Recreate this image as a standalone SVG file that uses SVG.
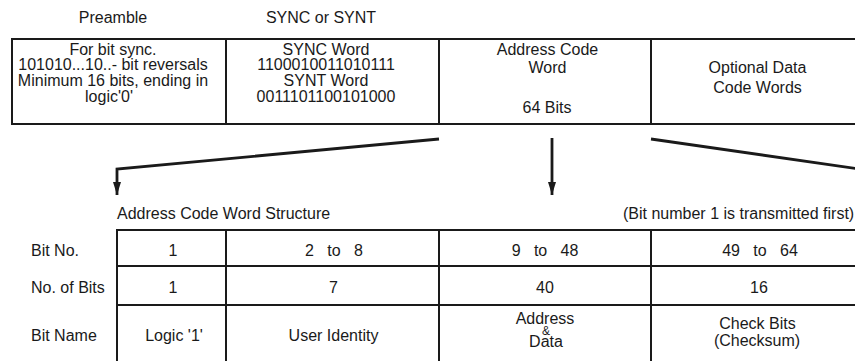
<svg xmlns="http://www.w3.org/2000/svg" width="855" height="361" viewBox="0 0 855 361">
<style>
text{font-family:"Liberation Sans",Arial,sans-serif;font-size:16px;fill:#1a1a1a}
.c{text-anchor:middle}
.sm{font-size:12px}
.grid{stroke:#1a1a1a;stroke-width:2;fill:none}
.conn{stroke:#1a1a1a;stroke-width:2.8;fill:none}
</style>
<defs>
<marker id="ah" viewBox="0 0 13 8" refX="13" refY="4" markerWidth="13" markerHeight="8" markerUnits="userSpaceOnUse" orient="auto">
<path d="M0,0 L13,4 L0,8 Z" fill="#1a1a1a"/>
</marker>
</defs>
<rect width="855" height="361" fill="#fff"/>

<g id="headings">
<text class="c" x="113" y="23">Preamble</text>
<text class="c" x="321" y="23">SYNC or SYNT</text>
</g>

<g id="frame-table">
<path class="grid" d="M870,39 H12 V124 H870 M226,39 V124 M439,39 V124 M651,39 V124"/>
</g>
<g id="preamble">
<text class="c" x="113" y="54.5">For bit sync.</text>
<text class="c" x="113" y="70.3">101010...10..- bit reversals</text>
<text class="c" x="113" y="86.1">Minimum 16 bits, ending in</text>
<text class="c" x="109" y="101.9">logic'0'</text>
</g>
<g id="sync">
<text class="c" x="326" y="54.5">SYNC Word</text>
<text class="c" x="326" y="70.3">1100010011010111</text>
<text class="c" x="326" y="86.1">SYNT Word</text>
<text class="c" x="326" y="101.9">0011101100101000</text>
</g>
<g id="address-code-word">
<text class="c" x="547.5" y="54.5">Address Code</text>
<text class="c" x="547.5" y="72.5">Word</text>
<text class="c" x="547" y="113">64 Bits</text>
</g>
<g id="optional-data">
<text class="c" x="757.5" y="73">Optional Data</text>
<text class="c" x="757.5" y="92.5">Code Words</text>
</g>

<g id="connectors">
<polyline class="conn" points="439,139 117,169 117,195" marker-end="url(#ah)"/>
<line class="conn" x1="552" y1="138" x2="552" y2="195" marker-end="url(#ah)"/>
<line class="conn" x1="651" y1="139" x2="870" y2="170.5"/>
</g>

<g id="structure-titles">
<text x="117" y="219">Address Code Word Structure</text>
<text x="623" y="218.5">(Bit number 1 is transmitted first)</text>
</g>

<g id="row-labels">
<text x="31" y="255.5">Bit No.</text>
<text x="31" y="293">No. of Bits</text>
<text x="31" y="341">Bit Name</text>
</g>

<g id="structure-table">
<path class="grid" d="M870,230 H117 V370 M117,266 H870 M117,305 H870 M226,230 V370 M439,230 V370 M651,230 V370"/>
</g>
<g id="bit1">
<text class="c" x="173" y="255.5">1</text>
<text class="c" x="173" y="293">1</text>
<text class="c" x="174" y="341">Logic '1'</text>
</g>
<g id="user-identity">
<text class="c" x="334" y="255.5" xml:space="preserve">2   to   8</text>
<text class="c" x="333.5" y="293">7</text>
<text class="c" x="333.5" y="341">User Identity</text>
</g>
<g id="address-data">
<text class="c" x="545" y="255.5" xml:space="preserve">9   to   48</text>
<text class="c" x="545" y="293">40</text>
<text class="c"><tspan x="545" y="323.5">Address</tspan><tspan class="sm" x="546" y="335">&amp;</tspan><tspan x="546" y="347">Data</tspan></text>
</g>
<g id="check-bits">
<text class="c" x="760" y="255.5" xml:space="preserve">49   to   64</text>
<text class="c" x="759" y="293">16</text>
<text class="c" x="757.5" y="329">Check Bits</text>
<text class="c" x="757" y="345.5">(Checksum)</text>
</g>
</svg>
